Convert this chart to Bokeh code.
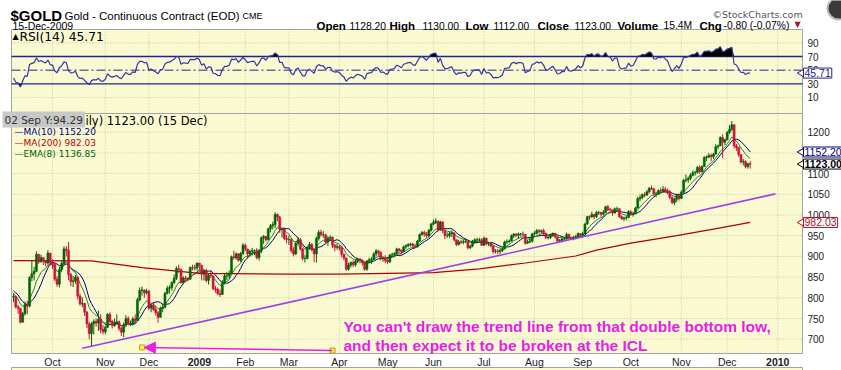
import numpy as np
import pandas as pd
from bokeh.plotting import figure
from bokeh.models import Range1d, Label, Arrow, NormalHead
from bokeh.embed import file_html
from bokeh.resources import INLINE

# ---------------- data ----------------
FIRST_DAY = "2008-08-11"      # warm-up days for the indicators (not shown)
FIRST_SHOWN = "2008-09-08"
CAL_END = "2010-01-15"
HOLIDAYS = ["2008-09-01", "2008-11-27", "2008-12-25", "2009-01-01", "2009-01-19",
            "2009-02-16", "2009-04-10", "2009-05-25", "2009-07-03", "2009-09-07",
            "2009-11-26", "2009-12-25", "2010-01-01"]

closes = [
    846, 814, 821, 809, 786, 799, 814, 835, 831, 828, 826, 823, 836, 830, 833,
    806, 808, 801, 802, 803, 778, 775, 741, 762, 784, 780, 849, 858, 864, 905, 887, 897, 889, 884, 908, 884,
    881, 845, 833, 868, 883, 918, 914, 856, 839, 841, 850, 804, 785, 786, 765, 737, 714, 737, 743, 739, 748, 723, 718,
    729, 760, 743, 733, 737, 742, 726, 717, 734, 750, 737, 737, 749, 745, 795, 818, 819, 812, 816,
    775, 782, 772, 764, 753, 774, 777, 811, 823, 825, 837, 847, 871, 869, 837, 848, 846, 845, 873, 872, 872, 884,
    878, 857, 866, 842, 854, 853, 822, 820, 810, 808, 836, 853, 853, 859, 899, 897, 906, 891, 907, 927,
    918, 906, 912, 914, 914, 897, 914, 945, 948, 940, 967, 974, 977, 1001, 995, 965, 966, 943, 941,
    941, 914, 906, 932, 940, 918, 895, 895, 922, 929, 917, 906, 943, 958, 952, 952, 935, 944, 946, 927, 922, 924,
    920, 905, 896, 869, 879, 885, 880, 888, 894, 890, 885, 869, 889, 892, 893, 906, 913, 910, 895, 896, 890,
    887, 903, 904, 907, 918, 915, 911, 923, 926, 929, 930, 925, 923, 937, 953, 958, 954, 950, 963, 978,
    982, 985, 964, 983, 962, 950, 950, 955, 957, 940, 929, 935, 934, 936, 936, 921, 925, 936, 940, 940, 940, 927,
    944, 930, 931, 925, 912, 913, 912, 914, 918, 935, 936, 937, 950, 954, 951, 954, 954, 953, 932, 935, 937, 954,
    956, 962, 960, 962, 956, 945, 946, 951, 955, 947, 937, 938, 942, 942, 953, 944, 943, 945, 948, 955, 951,
    955, 978, 996, 995, 1001, 996, 1006, 1006, 1002, 1006, 1020, 1013, 1012, 1005, 1015, 1015, 996, 991, 993, 994, 1008,
    1001, 1003, 1017, 1039, 1042, 1049, 1048, 1056, 1065, 1063, 1051, 1051, 1059, 1058, 1062, 1058, 1054, 1042, 1030, 1038, 1047, 1040,
    1055, 1084, 1085, 1089, 1096, 1102, 1103, 1115, 1105, 1117, 1139, 1140, 1144, 1141, 1147, 1165, 1167, 1187, 1176, 1182,
    1199, 1207, 1218, 1167, 1163, 1146, 1128, 1129, 1117, 1123.8, 1123,
]
highs = [
    868, 848, 826, 828, 812, 805, 818, 838, 846, 834, 831, 830, 840, 841, 840,
    836, 812, 812, 812, 812, 805, 783, 775, 766, 791, 793, 852, 890, 875, 912, 906, 904, 898, 890, 915, 905,
    893, 884, 852, 875, 888, 924, 925, 935, 860, 853, 855, 850, 810, 801, 788, 768, 742, 742, 748, 750, 769, 760, 734,
    733, 763, 765, 747, 750, 760, 745, 730, 740, 758, 755, 745, 754, 760, 800, 825, 827, 820, 822,
    819, 786, 790, 780, 768, 779, 786, 814, 829, 830, 840, 856, 876, 880, 868, 852, 853, 850, 876, 880, 880, 885,
    881, 880, 870, 870, 858, 866, 852, 829, 825, 820, 843, 858, 862, 866, 902, 914, 910, 908, 911, 932,
    931, 918, 916, 920, 917, 920, 918, 948, 952, 949, 969, 978, 984, 1007, 1004, 998, 969, 970, 952,
    950, 943, 922, 935, 947, 945, 920, 903, 926, 935, 932, 919, 948, 964, 964, 961, 955, 949, 951, 948, 930, 930,
    927, 926, 907, 897, 885, 888, 890, 892, 897, 895, 893, 888, 891, 897, 898, 910, 918, 916, 912, 900, 903,
    895, 906, 909, 910, 921, 920, 917, 926, 929, 932, 933, 933, 930, 940, 955, 961, 962, 959, 966, 981,
    989, 992, 987, 986, 985, 961, 958, 960, 963, 957, 941, 940, 940, 940, 942, 935, 928, 940, 944, 945, 945, 944,
    948, 945, 935, 935, 927, 918, 918, 918, 922, 938, 941, 941, 953, 956, 956, 958, 957, 960, 954, 940, 945, 957,
    961, 966, 966, 965, 967, 957, 950, 955, 958, 957, 947, 942, 945, 947, 957, 955, 948, 949, 952, 958, 956,
    960, 981, 998, 999, 1008, 1003, 1010, 1010, 1008, 1012, 1022, 1024, 1017, 1013, 1018, 1020, 1016, 999, 996, 998, 1012,
    1011, 1008, 1020, 1044, 1049, 1052, 1055, 1060, 1067, 1071, 1066, 1056, 1062, 1066, 1070, 1068, 1064, 1060, 1045, 1042, 1050, 1052,
    1060, 1087, 1098, 1093, 1101, 1108, 1107, 1118, 1120, 1120, 1142, 1144, 1150, 1148, 1150, 1171, 1170, 1190, 1195, 1184,
    1203, 1217, 1227, 1218, 1172, 1165, 1145, 1135, 1132, 1126, 1130,
]
lows = [
    840, 810, 806, 803, 773, 779, 793, 811, 826, 820, 818, 815, 820, 826, 828,
    800, 799, 796, 789, 790, 774, 761, 738, 743, 757, 760, 777, 840, 842, 862, 882, 885, 879, 876, 880, 878,
    870, 840, 827, 825, 862, 878, 900, 842, 828, 826, 834, 796, 781, 777, 756, 727, 700, 681, 711, 730, 720, 714, 712,
    712, 727, 738, 726, 730, 735, 720, 708, 705, 729, 733, 732, 733, 737, 745, 792, 805, 800, 808,
    770, 765, 768, 757, 740, 752, 765, 775, 808, 810, 817, 833, 843, 860, 834, 833, 838, 840, 844, 866, 866, 866,
    866, 842, 842, 837, 832, 848, 818, 812, 806, 802, 808, 832, 843, 845, 857, 892, 892, 887, 886, 903,
    913, 894, 899, 902, 903, 893, 890, 908, 930, 936, 943, 958, 965, 968, 985, 957, 946, 939, 932,
    928, 909, 900, 903, 926, 914, 890, 885, 893, 916, 912, 886, 885, 938, 948, 945, 930, 925, 938, 920, 912, 916,
    914, 898, 890, 865, 866, 873, 874, 875, 884, 883, 878, 865, 865, 883, 882, 890, 900, 900, 890, 887, 884,
    882, 884, 898, 898, 903, 908, 905, 910, 918, 922, 924, 922, 920, 922, 935, 950, 947, 945, 946, 960,
    975, 978, 960, 962, 956, 942, 945, 945, 947, 936, 925, 926, 930, 929, 932, 917, 918, 922, 930, 934, 934, 925,
    926, 927, 925, 922, 906, 907, 905, 906, 910, 917, 930, 932, 936, 944, 946, 943, 948, 948, 928, 930, 932, 933,
    950, 953, 955, 955, 951, 942, 941, 942, 947, 943, 933, 934, 934, 938, 940, 942, 940, 939, 941, 945, 947,
    946, 954, 976, 988, 994, 990, 993, 1000, 996, 999, 1005, 1010, 1005, 998, 1003, 1008, 993, 988, 985, 987, 992,
    998, 996, 1002, 1016, 1033, 1038, 1043, 1047, 1052, 1060, 1047, 1043, 1048, 1053, 1055, 1054, 1050, 1038, 1026, 1024, 1031, 1035,
    1040, 1053, 1079, 1078, 1084, 1093, 1095, 1100, 1100, 1103, 1116, 1130, 1137, 1130, 1135, 1150, 1159, 1167, 1137, 1169,
    1180, 1196, 1203, 1161, 1155, 1140, 1124, 1120, 1113, 1112, 1112,
]

ma200_dates = ["2008-09-08", "2008-10-24", "2008-11-25", "2009-01-02", "2009-02-27",
               "2009-04-01", "2009-05-01", "2009-06-01", "2009-06-29", "2009-07-28",
               "2009-08-27", "2009-09-10", "2009-10-01", "2009-10-29", "2009-11-20",
               "2009-12-15"]
ma200_values = [890, 889, 873, 859, 857, 857, 859, 861, 870, 884, 901, 915, 932, 950, 966, 982.03]

month_dates = ["2008-10-01", "2008-11-03", "2008-12-01", "2009-01-02", "2009-02-02",
               "2009-03-02", "2009-04-01", "2009-05-01", "2009-06-01", "2009-07-01",
               "2009-08-03", "2009-09-01", "2009-10-01", "2009-11-02", "2009-12-01",
               "2010-01-04"]
month_labels = ["Oct", "Nov", "Dec", "2009", "Feb", "Mar", "Apr", "May", "Jun", "Jul",
                "Aug", "Sep", "Oct", "Nov", "Dec", "2010"]

price_ticks = [700, 750, 800, 850, 900, 950, 1000, 1050, 1100, 1150, 1200]
rsi_ticks = [90, 70, 50, 30, 10]

trend_start = ("2008-10-20", 678)
trend_end_offset = 11          # trading days past the last bar
trend_end_value = 1051
arrow_tip = ("2008-11-26", 680)
arrow_tail = ("2009-03-27", 672.7)

header_stats = [("Open", True), ("1128.20", False), ("High", True), ("1130.00", False),
                ("Low", True), ("1112.00", False), ("Close", True), ("1123.00", False),
                ("Volume", True), ("15.4M", False), ("Chg", True), ("-0.80 (-0.07%)", False)]

# ---------------- calendar / indicators ----------------
days = pd.bdate_range(FIRST_DAY, CAL_END, freq="C", holidays=HOLIDAYS)
n = len(closes)
assert len(highs) == n and len(lows) == n
def day_idx(d):
    return days.get_loc(pd.Timestamp(d))
assert day_idx("2009-12-15") == n - 1

idx = np.arange(n)
c = np.array(closes, dtype=float)
h = np.array(highs, dtype=float)
lo = np.array(lows, dtype=float)
o = np.concatenate([[c[0]], c[:-1]])
up = c >= o

s = pd.Series(c)
ma10 = s.rolling(10, min_periods=1).mean().values
ema8 = s.ewm(span=8, adjust=False).mean().values

d = np.diff(c)
gain = np.clip(d, 0, None)
loss = np.clip(-d, 0, None)
rsi = np.full(n, np.nan)
ag, al = gain[:14].mean(), loss[:14].mean()
rsi[14] = 100 - 100 / (1 + ag / al)
for i in range(14, len(d)):
    ag = (ag * 13 + gain[i]) / 14
    al = (al * 13 + loss[i]) / 14
    rsi[i + 1] = 100 - 100 / (1 + ag / al) if al > 0 else 100

v0 = day_idx(FIRST_SHOWN)
vis = idx >= v0

# ---------------- geometry (canvas pixels) ----------------
W, H = 841, 370
PL, PR, PT, PB = 11, 802, 29, 353      # panel box
DIV = 113                              # RSI / price divider
PPD = 2.295                            # px per trading day
X_OCT = day_idx("2008-10-01")
def xd(px):
    return X_OCT + (px - 52) / PPD
PPU = 0.414                            # px per price unit
def yp(py):
    return 1200 - (py - 131.7) / PPU
RPPU = 0.683                           # px per RSI unit
def yr(py):
    return 70 - (py - 56) / RPPU

p = figure(width=W, height=H, x_range=Range1d(xd(0), xd(W)), y_range=Range1d(yp(H), yp(0)),
           output_backend="svg", toolbar_location=None, x_axis_location=None,
           y_axis_location=None, min_border=0, min_border_left=0, min_border_right=0,
           min_border_top=0, min_border_bottom=0, background_fill_color="white",
           border_fill_color="white", outline_line_color=None)
p.grid.visible = False
p.extra_y_ranges = {"rsi": Range1d(yr(H), yr(0))}

YEL = "#FAFAD2"
BORDER = "#A3A3A3"
p.quad(left=[xd(PL)], right=[xd(PR)], top=[yp(PT)], bottom=[yp(PB)], fill_color=YEL,
       line_color=BORDER, line_width=1)
p.quad(left=[xd(PL)], right=[xd(PR)], top=[yp(367)], bottom=[yp(385)], fill_color=YEL,
       line_color=BORDER, line_width=1)

GRID = "#C9C19A"
mx = [day_idx(m) for m in month_dates]
p.segment(x0=mx, y0=[yp(PB)] * len(mx), x1=mx, y1=[yp(PT)] * len(mx), line_color=GRID,
          line_dash="1 2", line_width=1)
p.segment(x0=[xd(PL)] * len(price_ticks), y0=price_ticks, x1=[xd(PR)] * len(price_ticks),
          y1=price_ticks, line_color=GRID, line_dash="1 2", line_width=1)
p.segment(x0=[xd(PL)] * 2, y0=[90, 10], x1=[xd(PR)] * 2, y1=[90, 10], line_color=GRID,
          line_dash="1 2", line_width=1, y_range_name="rsi")
NAVY = "#23238E"
p.segment(x0=[xd(PL)] * 2, y0=[70, 30], x1=[xd(PR)] * 2, y1=[70, 30], line_color=NAVY,
          line_width=1.3, y_range_name="rsi")
p.segment(x0=[xd(PL)], y0=[50], x1=[xd(PR)], y1=[50], line_color=NAVY, line_width=1,
          line_dash="9 3 2 3", y_range_name="rsi")
p.segment(x0=[xd(PL)], y0=[yp(DIV)], x1=[xd(PR)], y1=[yp(DIV)], line_color=BORDER, line_width=1)

# RSI panel
xi, rv = idx[vis], rsi[vis]
p.varea(x=xi, y1=np.full(len(rv), 70.0), y2=np.maximum(rv, 70), fill_color="black",
        y_range_name="rsi")
p.varea(x=xi, y1=np.minimum(rv, 30), y2=np.full(len(rv), 30.0), fill_color="black",
        y_range_name="rsi")
p.line(xi, rv, line_color="#3535A8", line_width=1.2, y_range_name="rsi")

# price panel
p.line(idx[vis], ma10[vis], line_color="#000080", line_width=1)
p.line(idx[vis], ema8[vis], line_color="#1E8C1E", line_width=1)
p.line([day_idx(dd) for dd in ma200_dates], ma200_values, line_color="#B00000", line_width=1.2)
GREEN, RED = "#006400", "#D0103A"
colors = np.where(up, GREEN, RED)[vis]
p.segment(x0=idx[vis], y0=lo[vis], x1=idx[vis], y1=h[vis], line_color=colors, line_width=1)
p.vbar(x=idx[vis], width=0.85, top=np.maximum(o, c)[vis], bottom=np.minimum(o, c)[vis],
       fill_color=colors, line_color=colors, line_width=0.6)

# trend line and arrow annotation
p.line([day_idx(trend_start[0]), n - 1 + trend_end_offset], [trend_start[1], trend_end_value],
       line_color="#A040E0", line_width=1.6)
MAG = "#EA1CEA"
ax0, ay0 = day_idx(arrow_tail[0]), arrow_tail[1]
ax1, ay1 = day_idx(arrow_tip[0]), arrow_tip[1]
p.add_layout(Arrow(x_start=ax0, y_start=ay0, x_end=ax1, y_end=ay1, line_color=MAG,
                   line_width=1.5, end=NormalHead(size=11, fill_color=MAG, line_color=MAG)))
p.scatter([ax1 - 0.9, ax0], [ay1, ay0], marker="square", size=5, fill_color="#FFFF40",
          line_color="#C89600")

def lab(text, px, py, size, font="Liberation Sans", color="black", bold=False,
        align="left", baseline="middle", **kw):
    p.add_layout(Label(x=px, y=H - py, x_units="screen", y_units="screen",
                       text=text, text_font=font, text_font_size=f"{size}px",
                       text_font_style="bold" if bold else "normal", text_color=color,
                       text_align=align, text_baseline=baseline, **kw))

# right axis labels
for t in price_ticks:
    p.add_layout(Label(x=807, x_units="screen", y=t, text=str(t), text_font="Liberation Sans",
                       text_font_size="10px", text_color="#222222", text_baseline="middle"))
for t in rsi_ticks:
    p.add_layout(Label(x=807, x_units="screen", y=t, y_range_name="rsi", text=str(t),
                       text_font="Liberation Sans", text_font_size="10px",
                       text_color="#222222", text_baseline="middle"))

# month labels
for m, t in zip(month_dates, month_labels):
    p.add_layout(Label(x=day_idx(m), y=H - 361, y_units="screen", text=t,
                       text_font="Liberation Sans", text_font_size="10.5px",
                       text_font_style="bold" if t.isdigit() else "normal",
                       text_color="#222222", text_align="center", text_baseline="middle"))

# header
lab("$GOLD", 10, 15, 15, bold=True, baseline="alphabetic")
lab("Gold - Continuous Contract (EOD)", 64, 15, 11.5, baseline="alphabetic")
lab("CME", 242, 15, 9, baseline="alphabetic")
lab("\u00a9StockCharts.com", 712, 14, 9.5, font="DejaVu Sans", color="#555555", baseline="alphabetic")
lab("15-Dec-2009", 12, 25, 10.5, baseline="alphabetic")
stat_x = [316, 349, 389, 422, 465, 493, 537, 574, 617, 663, 699, 723]
for (t, b), sx in zip(header_stats, stat_x):
    lab(t, sx, 25, 11.5 if b else 10.3, bold=b, baseline="alphabetic")
lab("\u25bc", 794, 24, 8, font="DejaVu Sans", color="#B0102A", baseline="alphabetic")
p.scatter([xd(838)], [yp(8)], marker="circle", size=22, fill_color="#3A3A3A",
          line_color="#BBBBBB", line_width=2)

# RSI legend
lab("\u25b2", 12, 35.5, 8, font="DejaVu Sans")
lab("RSI(14) 45.71", 19, 36, 12.3, font="DejaVu Sans")

# price legend
lab("$GOLD (Daily) 1123.00 (15 Dec)", 207, 120.5, 11.5, font="DejaVu Sans", align="right")
lab("02 Sep Y:94.29", 2, 119, 10.5, font="DejaVu Sans", color="#333333",
    background_fill_color="#C8C8C8", padding=2)
lab("\u2014MA(10) 1152.20", 14, 131.5, 9, font="DejaVu Sans", color="#000080")
lab("\u2014MA(200) 982.03", 14, 142.5, 9, font="DejaVu Sans", color="#C00000")
lab("\u2014EMA(8) 1136.85", 14, 153.5, 9, font="DejaVu Sans", color="#006400")

# value boxes on the right
def vbox(text, yv, color, rng=None, bold=False):
    kw = {"y_range_name": rng} if rng else {}
    p.scatter([xd(802)], [yv], marker="triangle", angle=np.pi / 2, size=9,
              fill_color="white", line_color=color, **kw)
    p.add_layout(Label(x=803, x_units="screen", y=yv, text=text,
                       text_font="Liberation Sans", text_font_size="10.5px",
                       text_font_style="bold" if bold else "normal", text_color=color,
                       text_baseline="middle", border_line_color=color,
                       background_fill_color="white", padding=1, **kw))
vbox("45.71", 45.71, NAVY, rng="rsi")
vbox("1152.20", 1152.2, "#000080")
vbox("1123.00", 1123.0, "black", bold=True)
vbox("982.03", 982.03, "#B0102A")

# comment text
lab("You can't draw the trend line from that double bottom low,", 343, 326, 15.5,
    color=MAG, bold=True)
lab("and then expect it to be broken at the ICL", 343, 344.5, 15.5, color=MAG, bold=True)

open("out.html", "w").write(file_html(p, INLINE))
